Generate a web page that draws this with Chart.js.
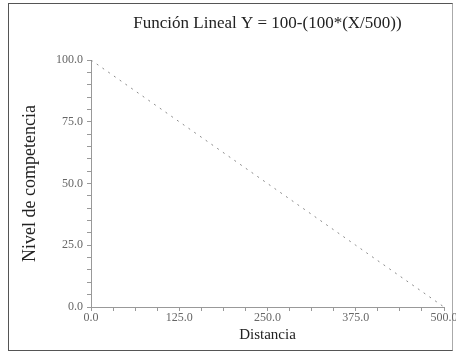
<!DOCTYPE html>
<html>
<head>
<meta charset="utf-8">
<script src="https://cdn.jsdelivr.net/npm/chart.js@4/dist/chart.umd.min.js"></script>
<style>
  body { margin: 0; background: #fff; }
  #wrap { position: relative; width: 456px; height: 356px; }
  #frame { position: absolute; left: 8px; top: 3px; width: 443px; height: 346px; border: 1px solid #555; border-right-color: #aaa; }
  canvas { position: absolute; left: 0; top: 0; }
</style>
</head>
<body>
<div id="wrap">
  <div id="frame"></div>
  <canvas id="lineChart" width="456" height="356"></canvas>
</div>
<script>
// Distancia (X) and nivel de competencia (Y)
const distances = [0, 125, 250, 375, 500];
const levels = [100, 75, 50, 25, 0];

const chartTitle = "Función Lineal Y = 100-(100*(X/500))";
const xTitle = "Distancia";
const yTitle = "Nivel de competencia";

const serif = "'Liberation Serif', 'DejaVu Serif', serif";

document.addEventListener("DOMContentLoaded", function () {
    const ctx = document.getElementById("lineChart").getContext("2d");

    new Chart(ctx, {
        type: "line",
        data: {
            datasets: [{
                label: yTitle,
                data: distances.map((d, i) => ({ x: d, y: levels[i] })),
                borderColor: "#8a8a8a",
                borderWidth: 1,
                borderDash: [2, 5],
                pointRadius: 0,
                fill: false,
                tension: 0
            }]
        },
        options: {
            responsive: false,
            animation: false,
            layout: { padding: { left: 14, right: 0, top: 0, bottom: 12 } },
            plugins: {
                legend: { display: false },
                tooltip: { enabled: false },
                title: {
                    display: true,
                    fullSize: false,
                    text: chartTitle,
                    color: "#222",
                    font: { family: serif, size: 17, weight: "normal" },
                    padding: { top: 13, bottom: 26.6 }
                }
            },
            scales: {
                x: {
                    type: "linear",
                    min: 0,
                    max: 500,
                    border: { color: "#999" },
                    grid: { drawOnChartArea: false, tickLength: 4, tickColor: "#999" },
                    ticks: {
                        stepSize: 31.25,
                        autoSkip: false,
                        maxRotation: 0,
                        padding: 0,
                        color: "#666",
                        font: { family: serif, size: 12 },
                        callback: v => (v % 125 === 0 ? v.toFixed(1) : "")
                    },
                    title: {
                        display: true,
                        text: xTitle,
                        color: "#222",
                        font: { family: serif, size: 15 },
                        padding: { top: 0, bottom: 0 }
                    },
                    afterFit: scale => { scale.height = 37; scale.paddingRight = 12; }
                },
                y: {
                    min: 0,
                    max: 100,
                    border: { color: "#999" },
                    grid: { drawOnChartArea: false, tickLength: 4, tickColor: "#999" },
                    ticks: {
                        stepSize: 5,
                        autoSkip: false,
                        padding: 4,
                        color: "#666",
                        font: { family: serif, size: 12 },
                        callback: v => (v % 25 === 0 ? v.toFixed(1) : "")
                    },
                    title: {
                        display: true,
                        text: yTitle,
                        color: "#222",
                        font: { family: serif, size: 18 },
                        padding: { top: 5, bottom: 0 }
                    },
                    afterFit: scale => { scale.width = 77; }
                }
            }
        }
    });
});
</script>
</body>
</html>
